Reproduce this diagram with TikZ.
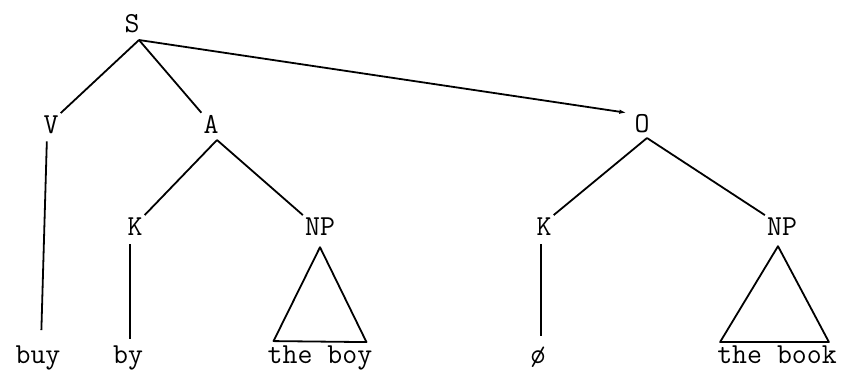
\documentclass[tikz,border=0pt]{standalone}
\usepackage{fontspec}
\usepackage{tikz}
\usetikzlibrary{arrows.meta}

\begin{document}
\begin{tikzpicture}[x=1pt,y=-1pt,>={Latex[length=7pt,width=4.5pt]},
  cat/.style={font=\fontsize{29}{34}\selectfont\ttfamily,anchor=base,inner sep=2pt},
  word/.style={font=\fontsize{29}{34}\selectfont\ttfamily,anchor=base,inner sep=2pt},
  edge/.style={line width=1.8pt}]
\useasboundingbox (0,0) rectangle (846,376);
% categories
\node[cat] (S) at (132,32) {S};
\node[cat] (V) at (51,133) {V};
\node[cat] (A) at (211,133) {A};
\node[cat] (O) at (642,132) {O};
\node[cat] (Ka) at (135,235) {K};
\node[cat] (NPa) at (320,235) {NP};
\node[cat] (Kb) at (544,235) {K};
\node[cat] (NPb) at (782,235) {NP};
% words
\node[word] (buy) at (38,363) {buy};
\node[word] (by) at (128,363) {by};
\node[word] (boy) at (320,363) {the boy};
\node[word] (nil) at (538,363) {\o};
\node[word] (book) at (777,363) {the book};
% branching points
\coordinate (Sb) at (139,40);
\coordinate (Ab) at (217,140);
\coordinate (Ob) at (647,138);
% tree
\draw[edge] (Sb) -- (V.north east); \draw[edge] (Sb) -- (A.north west);
\draw[edge,->] (Sb) -- ([xshift=-6pt,yshift=-1pt]O.north west);
\draw[edge] (Ab) -- (Ka.north east); \draw[edge] (Ab) -- (NPa.north west);
\draw[edge] (Ob) -- (Kb.north east); \draw[edge] (Ob) -- (NPb.north west);
\draw[edge,shorten <=6pt,shorten >=13pt] ([xshift=-4pt]V.south) -- ([xshift=3pt]buy.north);
\draw[edge,shorten <=7pt,shorten >=4pt] ([xshift=-5pt]Ka.south) -- ([xshift=2pt]by.north);
\draw[edge,shorten <=7pt,shorten >=8pt] ([xshift=-3pt]Kb.south) -- ([xshift=3pt]nil.north);
% triangles
\draw[edge,line join=round] ([yshift=-10pt]NPa.south) -- ([xshift=8pt,yshift=2pt]boy.north west) -- ([xshift=-8pt,yshift=1pt]boy.north east) -- cycle;
\draw[edge,line join=round] ([xshift=-4pt,yshift=-9pt]NPb.south) -- ([xshift=5pt,yshift=1pt]book.north west) -- ([xshift=-10pt,yshift=1pt]book.north east) -- cycle;
\end{tikzpicture}
\end{document}
